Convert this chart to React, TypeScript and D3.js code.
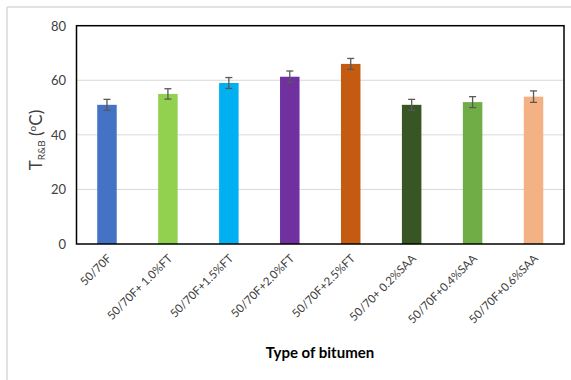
import * as d3 from 'd3'
import React, { useRef, useEffect } from 'react'

const categories = [
  '50/70F',
  '50/70F+ 1.0%FT',
  '50/70F+1.5%FT',
  '50/70F+2.0%FT',
  '50/70F+2.5%FT',
  '50/70+ 0.2%SAA',
  '50/70F+0.4%SAA',
  '50/70F+0.6%SAA',
]
const values = [51, 55, 59, 61.3, 66, 51, 52, 54]
const errors = [2, 1.9, 2, 2.1, 2, 2, 2, 2.1]
const colors = ['#4472C4', '#92D050', '#00B0F0', '#7030A0', '#C55A11', '#375623', '#70AD47', '#F4B183']
const yTicks = [0, 20, 40, 60, 80]

const BarChart = () => {
  const ref = useRef<SVGSVGElement | null>(null)

  useEffect(() => {
    const svg = d3.select(ref.current)
    svg.selectAll('*').remove()

    const margin = { left: 76.5, top: 25.7, right: 564, bottom: 244 }
    const font = 'Lato, "Open Sans", sans-serif'

    // Outer frame (only left and top edges visible)
    svg.append('line').attr('x1', 7).attr('x2', 7).attr('y1', 7).attr('y2', 380)
      .attr('stroke', '#d9d9d9').attr('stroke-width', 1.5)
    svg.append('line').attr('x1', 7).attr('x2', 571).attr('y1', 7).attr('y2', 7)
      .attr('stroke', '#d9d9d9').attr('stroke-width', 1.5)

    const x = d3.scaleBand().domain(categories).range([margin.left, margin.right]).paddingInner(0.68).paddingOuter(0.34)
    const y = d3.scaleLinear().domain([0, 80]).range([margin.bottom, margin.top])

    // Gridlines
    svg.selectAll('.grid')
      .data(yTicks.filter(t => t > 0 && t < 80))
      .enter().append('line')
      .attr('x1', margin.left).attr('x2', margin.right)
      .attr('y1', d => y(d)).attr('y2', d => y(d))
      .attr('stroke', '#d9d9d9').attr('stroke-width', 1)

    // Y tick labels
    svg.selectAll('.ytick')
      .data(yTicks)
      .enter().append('text')
      .attr('x', 66).attr('y', d => y(d))
      .attr('text-anchor', 'end').attr('dominant-baseline', 'central')
      .style('font-family', font).style('font-size', '13px').attr('fill', '#404040')
      .text(d => d)

    // Bars
    svg.selectAll('.bar')
      .data(values)
      .enter().append('rect')
      .attr('x', (d, i) => x(categories[i])!)
      .attr('width', x.bandwidth())
      .attr('y', d => y(d))
      .attr('height', d => y(0) - y(d))
      .attr('fill', (d, i) => colors[i])

    // Error bars
    values.forEach((v, i) => {
      const cx = x(categories[i])! + x.bandwidth() / 2
      const g = svg.append('g').attr('stroke', '#595959').attr('stroke-width', 1.3)
      g.append('line').attr('x1', cx).attr('x2', cx).attr('y1', y(v + errors[i])).attr('y2', y(v - errors[i]))
      g.append('line').attr('x1', cx - 3.5).attr('x2', cx + 3.5).attr('y1', y(v + errors[i])).attr('y2', y(v + errors[i]))
      g.append('line').attr('x1', cx - 3.5).attr('x2', cx + 3.5).attr('y1', y(v - errors[i])).attr('y2', y(v - errors[i]))
    })

    // Plot box
    svg.append('rect')
      .attr('x', margin.left).attr('y', margin.top)
      .attr('width', margin.right - margin.left).attr('height', margin.bottom - margin.top)
      .attr('fill', 'none').attr('stroke', '#000').attr('stroke-width', 1.5)

    // X tick labels
    categories.forEach(c => {
      const cx = x(c)! + x.bandwidth() / 2 + 2
      svg.append('text')
        .attr('transform', `translate(${cx}, 256) rotate(-45)`)
        .attr('text-anchor', 'end').attr('dominant-baseline', 'central')
        .style('font-family', font).style('font-size', '11.5px').attr('fill', '#404040')
        .text(c)
    })

    // X axis title
    svg.append('text')
      .attr('x', 320).attr('y', 352)
      .attr('text-anchor', 'middle').attr('dominant-baseline', 'central')
      .style('font-family', font).style('font-size', '15px').style('font-weight', 'bold').attr('fill', '#000')
      .text('Type of bitumen')

    // Y axis title
    const yt = svg.append('text')
      .attr('transform', 'translate(42, 140) rotate(-90)')
      .attr('text-anchor', 'middle')
      .style('font-family', font).style('font-size', '17px').attr('fill', '#404040')
    yt.append('tspan').text('T')
    yt.append('tspan').attr('dy', 3).style('font-size', '10px').text('R&B')
    yt.append('tspan').attr('dy', -3).text(' (')
    yt.append('tspan').attr('dy', -6).style('font-size', '10px').text('o')
    yt.append('tspan').attr('dy', 6).text('C)')
  }, [])

  return (
    <svg ref={ref} width={571} height={380} style={{ position: 'absolute', left: 0, top: 0, background: '#fff' }} />
  )
}

export default function App() {
  return <BarChart />
}
